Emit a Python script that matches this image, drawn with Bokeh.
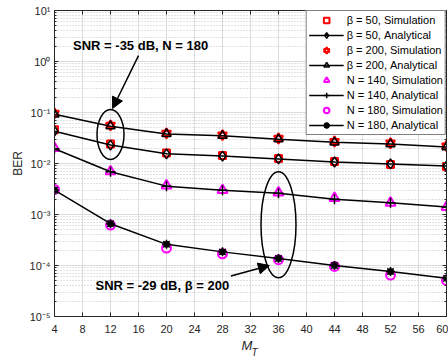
from bokeh.plotting import figure
from bokeh.models import (FixedTicker, CustomJSTickFormatter, Legend, LegendItem,
                          Arrow, NormalHead, Label, LogAxis, LinearAxis)
from bokeh.embed import file_html
from bokeh.resources import INLINE

# ---- data ----
MT = [4, 12, 20, 28, 36, 44, 52, 60]
b50_sim = [0.046, 0.024, 0.0160, 0.0143, 0.0126, 0.0110, 0.0096, 0.0087]
b50_ana = [0.043, 0.023, 0.0155, 0.0140, 0.0123, 0.0107, 0.0098, 0.0089]
b200_sim = [0.096, 0.056, 0.039, 0.036, 0.031, 0.027, 0.025, 0.022]
b200_ana = [0.092, 0.054, 0.038, 0.035, 0.030, 0.026, 0.024, 0.021]
n140_sim = [0.0200, 0.0070, 0.0037, 0.0030, 0.0027, 0.0021, 0.0017, 0.0014]
n140_ana = [0.0195, 0.0069, 0.0036, 0.0030, 0.0026, 0.0020, 0.0017, 0.0014]
n180_sim = [0.0031, 0.00062, 0.00022, 0.00017, 0.00013, 0.000096, 0.000065, 0.000051]
n180_ana = [0.0030, 0.00066, 0.00026, 0.000185, 0.000137, 0.00010, 0.000076, 0.000056]
x_ticks = [4, 8, 12, 16, 20, 24, 28, 32, 36, 40, 44, 48, 52, 56, 60]
y_major = [1e-5, 1e-4, 1e-3, 1e-2, 1e-1, 1e0, 1e1]

FONT = "Liberation Sans"
AX = "#262626"
NB = "\u00a0"

p = figure(width=448, height=360, y_axis_type="log", x_range=(4, 60), y_range=(1e-5, 10),
           output_backend="svg", toolbar_location=None,
           min_border_left=54, min_border_right=2, min_border_top=10, min_border_bottom=43)
p.background_fill_color = "white"
p.outline_line_color = AX
p.outline_line_width = 1

y_minor = [m * d for d in y_major[:-1] for m in range(2, 10)]
yt = FixedTicker(ticks=y_major, minor_ticks=y_minor)
xt = FixedTicker(ticks=x_ticks)

fmt = CustomJSTickFormatter(code="""
const sup = {"-":"\u207b","0":"\u2070","1":"\u00b9","2":"\u00b2","3":"\u00b3","4":"\u2074","5":"\u2075","6":"\u2076","7":"\u2077","8":"\u2078","9":"\u2079"};
const e = Math.round(Math.log10(tick));
return "10" + String(e).split("").map(c => sup[c]).join("");
""")

for ax in p.yaxis:
    ax.ticker = yt
    ax.formatter = fmt
for ax in p.xaxis:
    ax.ticker = xt

for ax in list(p.xaxis) + list(p.yaxis):
    ax.major_tick_in = 4
    ax.major_tick_out = 0
    ax.minor_tick_in = 2
    ax.minor_tick_out = 0
    ax.axis_line_color = AX
    ax.major_tick_line_color = AX
    ax.minor_tick_line_color = AX
    ax.major_label_text_font = FONT
    ax.major_label_text_font_size = "11px"
    ax.major_label_text_color = AX
    ax.axis_label_text_font = FONT
    ax.axis_label_text_color = AX
p.xaxis.major_label_standoff = 8
p.yaxis.major_label_standoff = 4
p.yaxis.axis_label = "BER"
p.yaxis.axis_label_text_font_style = "normal"
p.yaxis.axis_label_text_font_size = "12px"
p.yaxis.axis_label_standoff = 2
p.xaxis.axis_label = "M" + NB * 2
p.xaxis.axis_label_text_font_style = "italic"
p.xaxis.axis_label_text_font_size = "13px"
p.xaxis.axis_label_standoff = 2

# subscript "T" as the label of an empty second bottom axis
sub = LinearAxis(ticker=FixedTicker(ticks=[]), axis_line_alpha=0, major_tick_in=0, major_tick_out=0,
                 minor_tick_in=0, minor_tick_out=0, major_label_text_font_size="1px",
                 major_label_text_alpha=0, major_label_standoff=0,
                 axis_label=NB * 3 + "T", axis_label_text_font=FONT, axis_label_text_font_size="10px",
                 axis_label_text_font_style="italic", axis_label_text_color=AX,
                 axis_label_standoff=-9)
p.add_layout(sub, "below")

# box axes (right / top) with inward ticks, invisible labels
ra = LogAxis(ticker=yt, major_label_text_font_size="1px", major_label_text_alpha=0,
             major_tick_in=4, major_tick_out=0,
             minor_tick_in=2, minor_tick_out=0, axis_line_color=AX, major_tick_line_color=AX,
             minor_tick_line_color=AX, major_label_standoff=0)
ta = LinearAxis(ticker=xt, major_label_text_font_size="1px", major_label_text_alpha=0,
                major_tick_in=4, major_tick_out=0,
                minor_tick_in=0, minor_tick_out=0, axis_line_color=AX, major_tick_line_color=AX,
                major_label_standoff=0)
p.add_layout(ra, "right")
p.add_layout(ta, "above")

p.xgrid.ticker = xt
p.ygrid.ticker = yt
p.grid.grid_line_color = "#dcdcdc"
p.grid.grid_line_width = 1
p.ygrid.minor_grid_line_color = "#c4c4c4"
p.ygrid.minor_grid_line_dash = "1 2"

LW = 1.5
# simulations
s50 = p.scatter(MT, b50_sim, marker="square", size=7, fill_color=None, line_color="red", line_width=2)
s200a = p.scatter(MT, b200_sim, marker="triangle", size=9, fill_color=None, line_color="red", line_width=2)
s200b = p.scatter(MT, b200_sim, marker="inverted_triangle", size=9, fill_color=None, line_color="red", line_width=2)
s140 = p.scatter(MT, n140_sim, marker="triangle", size=10, fill_color=None, line_color="magenta", line_width=2)
s180 = p.scatter(MT, n180_sim, marker="circle", size=9, fill_color=None, line_color="magenta", line_width=2)

# analytical
l50 = p.line(MT, b50_ana, line_color="black", line_width=LW)
m50 = p.scatter(MT, b50_ana, marker="diamond", size=10, fill_color=None, line_color="black", line_width=LW)
l200 = p.line(MT, b200_ana, line_color="black", line_width=LW)
m200 = p.scatter(MT, b200_ana, marker="triangle", size=9, fill_color=None, line_color="black", line_width=LW)
l140 = p.line(MT, n140_ana, line_color="black", line_width=LW)
m140 = p.scatter(MT, n140_ana, marker="cross", size=10, line_color="black", line_width=LW)
l180 = p.line(MT, n180_ana, line_color="black", line_width=LW)
m180a = p.scatter(MT, n180_ana, marker="asterisk", size=9, line_color="black", line_width=LW)
m180b = p.scatter(MT, n180_ana, marker="circle", size=6, fill_color="black", line_color="black")

items = [
    LegendItem(label="\u03b2 = 50, Simulation", renderers=[s50]),
    LegendItem(label="\u03b2 = 50, Analytical", renderers=[l50, m50]),
    LegendItem(label="\u03b2 = 200, Simulation", renderers=[s200a, s200b]),
    LegendItem(label="\u03b2 = 200, Analytical", renderers=[l200, m200]),
    LegendItem(label="N = 140, Simulation", renderers=[s140]),
    LegendItem(label="N = 140, Analytical", renderers=[l140, m140]),
    LegendItem(label="N = 180, Simulation", renderers=[s180]),
    LegendItem(label="N = 180, Analytical", renderers=[l180, m180a, m180b]),
]
legend = Legend(items=items, location="top_right", margin=0, padding=2, spacing=1,
                glyph_width=35, glyph_height=14, label_height=14, label_standoff=3,
                label_text_font=FONT, label_text_font_size="11px", label_text_color="black",
                border_line_color="black", border_line_width=1, background_fill_alpha=1)
p.add_layout(legend)

# annotations
p.ellipse(x=12, y=0.037, width=27, height=50, width_units="screen", height_units="screen",
          fill_color=None, line_color="black", line_width=1.5)
p.ellipse(x=36, y=0.00063, width=35, height=106, width_units="screen", height_units="screen",
          fill_color=None, line_color="black", line_width=1.5)
p.add_layout(Arrow(end=NormalHead(size=11, fill_color="black", line_color="black"),
                   x_start=16.0, y_start=1.3, x_end=12.3, y_end=0.12,
                   line_color="black", line_width=1.5))
p.add_layout(Arrow(end=NormalHead(size=11, fill_color="black", line_color="black"),
                   x_start=29.2, y_start=6.2e-5, x_end=34.7, y_end=1.0e-4,
                   line_color="black", line_width=1.5))
p.add_layout(Label(x=16.3, y=2.05, text="SNR = -35 dB, N = 180", text_align="center",
                   text_baseline="middle", text_font=FONT, text_font_size="13px",
                   text_font_style="bold", text_color="black"))
p.add_layout(Label(x=19.4, y=4.1e-5, text="SNR = -29 dB, \u03b2 = 200", text_align="center",
                   text_baseline="middle", text_font=FONT, text_font_size="13px",
                   text_font_style="bold", text_color="black"))

open("out.html", "w").write(file_html(p, INLINE))
